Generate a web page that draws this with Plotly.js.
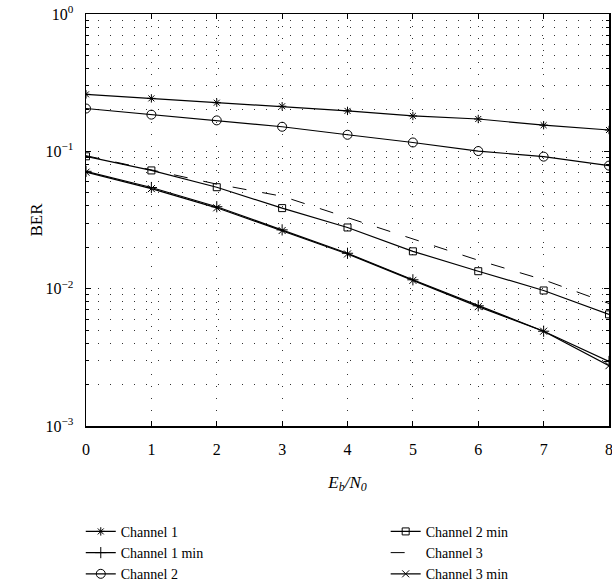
<!DOCTYPE html>
<html>
<head>
<meta charset="utf-8">
<script src="https://cdn.plot.ly/plotly-3.0.1.min.js"></script>
<style>html,body{margin:0;padding:0;background:#fff;}#chart{width:612px;height:581px;}</style>
</head>
<body>
<div id="chart"></div>
<script>
const ebn0 = [0, 1, 2, 3, 4, 5, 6, 7, 8];
const channel1    = [0.260, 0.243, 0.226, 0.213, 0.197, 0.181, 0.172, 0.155, 0.143];
const channel1Min = [0.0715, 0.0545, 0.0395, 0.0268, 0.0181, 0.0116, 0.0075, 0.0049, 0.00295];
const channel2    = [0.205, 0.185, 0.168, 0.151, 0.132, 0.116, 0.1005, 0.0915, 0.0787];
const channel2Min = [0.092, 0.0726, 0.0548, 0.0386, 0.0279, 0.0187, 0.0134, 0.0097, 0.0065];
const channel3    = [0.093, 0.073, 0.0577, 0.0471, 0.0329, 0.0231, 0.0161, 0.0116, 0.0078];
const channel3Min = [0.0705, 0.0535, 0.0388, 0.0265, 0.0179, 0.0115, 0.0074, 0.0049, 0.00275];
const xTickLabels = ['0','1','2','3','4','5','6','7','8'];
const yTickVals = [0.001, 0.01, 0.1, 1];
const yTickText = ['10<sup>\u22123</sup>', '10<sup>\u22122</sup>', '10<sup>\u22121</sup>', '10<sup>0</sup>'];

// minor log grid positions 2..9 x 10^k
const yMinorVals = [];
for (let e = -3; e < 0; e++) {
  for (let m = 2; m <= 9; m++) yMinorVals.push(m * Math.pow(10, e));
}

const serif = '"Liberation Serif", "Times New Roman", Times, serif';
const lineStyle = {color: '#000', width: 1.2};
function mk(symbol, size) {
  return {symbol: symbol, size: size, color: '#000', line: {color: '#000', width: 1}};
}

const traces = [
  {x: ebn0, y: channel1, name: 'Channel 1', mode: 'lines+markers', line: lineStyle, marker: mk('asterisk-open', 7), legend: 'legend'},
  {x: ebn0, y: channel1Min, name: 'Channel 1 min', mode: 'lines+markers', line: lineStyle, marker: mk('cross-thin-open', 8), legend: 'legend'},
  {x: ebn0, y: channel2, name: 'Channel 2', mode: 'lines+markers', line: lineStyle, marker: mk('circle-open', 9), legend: 'legend'},
  {x: ebn0, y: channel2Min, name: 'Channel 2 min', mode: 'lines+markers', line: lineStyle, marker: mk('square-open', 7), legend: 'legend2'},
  {x: ebn0, y: channel3, name: 'Channel 3', mode: 'lines', line: {color: '#000', width: 1, dash: '14px,16px'}, legend: 'legend2'},
  {x: ebn0, y: channel3Min, name: 'Channel 3 min', mode: 'lines+markers', line: lineStyle, marker: mk('x-thin-open', 7), legend: 'legend2'}
];

const legendCommon = {
  orientation: 'v',
  xref: 'paper', yref: 'paper',
  xanchor: 'left', yanchor: 'top',
  font: {family: serif, size: 14, color: '#000'},
  bgcolor: 'rgba(0,0,0,0)',
  borderwidth: 0,
  itemwidth: 30,
  tracegroupgap: 0
};

const gridDash = '1px,11px';

const layout = {
  width: 612, height: 581,
  paper_bgcolor: '#fff', plot_bgcolor: '#fff',
  margin: {l: 86, r: 3, t: 14, b: 155, autoexpand: false},
  font: {family: serif, size: 16, color: '#000'},
  showlegend: true,
  legend: Object.assign({}, legendCommon, {x: -0.010, y: -0.218}),
  legend2: Object.assign({}, legendCommon, {x: 0.573, y: -0.218}),
  xaxis: {
    range: [0, 8],
    tickvals: ebn0, ticktext: xTickLabels,
    ticks: 'inside', ticklen: 5, tickcolor: '#000', tickwidth: 1,
    showline: true, linecolor: '#000', linewidth: 1.5, mirror: 'ticks',
    showgrid: true, gridcolor: '#333', gridwidth: 1, griddash: gridDash,
    zeroline: false,
    ticklabelstandoff: 8,
    ticklabeloverflow: 'allow',
    tickfont: {family: serif, size: 16, color: '#000'},
    title: {text: '<i>E<sub>b</sub>/N<sub>0</sub></i>', font: {family: serif, size: 17, color: '#000'}}
  },
  yaxis: {
    type: 'log',
    range: [-3, 0],
    tickmode: 'array',
    tickvals: yTickVals, ticktext: yTickText,
    ticks: 'inside', ticklen: 5, tickcolor: '#000', tickwidth: 1,
    showline: true, linecolor: '#000', linewidth: 1.5, mirror: 'ticks',
    showgrid: true, gridcolor: '#333', gridwidth: 1, griddash: gridDash,
    minor: {
      tickmode: 'array', tickvals: yMinorVals,
      ticks: 'inside', ticklen: 3, tickcolor: '#000', tickwidth: 1,
      showgrid: true, gridcolor: '#333', gridwidth: 1, griddash: gridDash
    },
    zeroline: false,
    ticklabelstandoff: 8,
    tickfont: {family: serif, size: 16, color: '#000'},
    title: {text: 'BER', font: {family: serif, size: 17, color: '#000'}}
  }
};

Plotly.newPlot('chart', traces, layout, {displayModeBar: false, staticPlot: true});
</script>
</body>
</html>
